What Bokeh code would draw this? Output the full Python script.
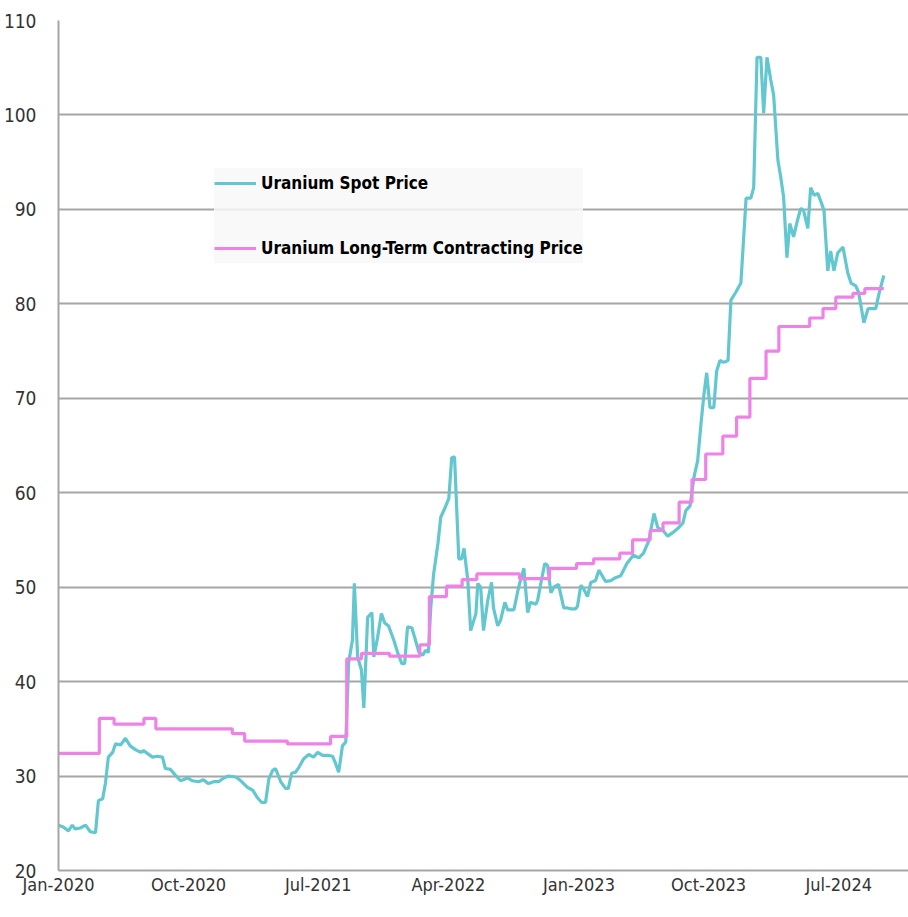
import pandas as pd
from bokeh.plotting import figure
from bokeh.models import Range1d, FixedTicker, DatetimeTickFormatter, Legend, LegendItem, ColumnDataSource
from bokeh.embed import file_html
from bokeh.resources import INLINE

# ---------------- data ----------------
spot_dates = [
    "2020-01-01", "2020-01-11", "2020-01-22", "2020-01-30", "2020-02-05", "2020-02-16", "2020-02-27",
    "2020-03-08", "2020-03-19", "2020-03-25", "2020-04-03", "2020-04-09", "2020-04-15", "2020-04-24",
    "2020-04-30", "2020-05-11", "2020-05-21", "2020-05-31", "2020-06-11", "2020-06-22", "2020-06-28",
    "2020-07-06", "2020-07-17", "2020-07-27", "2020-08-07", "2020-08-13", "2020-08-24", "2020-09-03",
    "2020-09-14", "2020-09-29", "2020-10-09", "2020-10-22", "2020-11-01", "2020-11-12", "2020-11-23",
    "2020-12-03", "2020-12-14", "2020-12-24", "2021-01-08", "2021-01-19", "2021-02-02", "2021-02-13",
    "2021-02-23", "2021-03-04", "2021-03-12", "2021-03-19", "2021-03-27", "2021-04-02", "2021-04-13",
    "2021-04-23", "2021-04-29", "2021-05-06", "2021-05-14", "2021-05-21", "2021-05-31", "2021-06-11",
    "2021-06-21", "2021-06-30", "2021-07-10", "2021-07-21", "2021-07-31", "2021-08-06", "2021-08-13",
    "2021-08-21", "2021-08-28", "2021-09-03", "2021-09-11", "2021-09-15", "2021-09-22", "2021-09-30",
    "2021-10-05", "2021-10-13", "2021-10-22", "2021-10-26", "2021-11-03", "2021-11-11", "2021-11-18",
    "2021-11-26", "2021-12-07", "2021-12-15", "2021-12-24", "2021-12-30", "2022-01-05", "2022-01-14",
    "2022-01-20", "2022-01-29", "2022-02-06", "2022-02-12", "2022-02-18", "2022-02-23", "2022-03-01",
    "2022-03-10", "2022-03-16", "2022-03-24", "2022-04-02", "2022-04-08", "2022-04-14", "2022-04-23",
    "2022-04-29", "2022-05-04", "2022-05-12", "2022-05-18", "2022-05-29", "2022-06-02", "2022-06-08",
    "2022-06-14", "2022-06-23", "2022-07-01", "2022-07-05", "2022-07-14", "2022-07-20", "2022-07-29",
    "2022-08-04", "2022-08-17", "2022-08-27", "2022-09-07", "2022-09-15", "2022-09-21", "2022-10-02",
    "2022-10-06", "2022-10-15", "2022-10-21", "2022-10-27", "2022-11-03", "2022-11-09", "2022-11-19",
    "2022-11-30", "2022-12-08", "2022-12-15", "2022-12-25", "2022-12-29", "2023-01-05", "2023-01-11",
    "2023-01-19", "2023-01-26", "2023-02-05", "2023-02-12", "2023-02-26", "2023-03-09", "2023-03-19",
    "2023-03-30", "2023-04-12", "2023-04-26", "2023-05-07", "2023-05-17", "2023-05-28", "2023-06-08",
    "2023-06-16", "2023-06-27", "2023-07-07", "2023-07-18", "2023-07-28", "2023-08-08", "2023-08-14",
    "2023-08-23", "2023-08-31", "2023-09-08", "2023-09-15", "2023-09-21", "2023-09-27", "2023-10-04",
    "2023-10-12", "2023-10-18", "2023-10-25", "2023-11-02", "2023-11-11", "2023-11-17", "2023-11-27",
    "2023-12-08", "2023-12-19", "2023-12-29", "2024-01-04", "2024-01-11", "2024-01-19", "2024-01-25",
    "2024-02-01", "2024-02-09", "2024-02-15", "2024-02-24", "2024-03-01", "2024-03-07", "2024-03-14",
    "2024-03-20", "2024-03-28", "2024-04-05", "2024-04-12", "2024-04-18", "2024-04-27", "2024-05-03",
    "2024-05-10", "2024-05-18", "2024-05-24", "2024-05-31", "2024-06-08", "2024-06-14", "2024-06-21",
    "2024-06-29", "2024-07-10", "2024-07-20", "2024-07-27", "2024-08-06", "2024-08-12", "2024-08-23",
    "2024-09-01", "2024-09-17", "2024-09-24", "2024-10-04",
]
spot_values = [
    24.8, 24.6, 24.2, 24.8, 24.4, 24.5, 24.8,
    24.1, 24.0, 27.4, 27.6, 29.3, 32.0, 32.5,
    33.4, 33.3, 34.0, 33.2, 32.8, 32.5, 32.7,
    32.4, 32.0, 32.1, 32.0, 30.8, 30.7, 30.1,
    29.5, 29.8, 29.5, 29.4, 29.6, 29.2, 29.4,
    29.4, 29.8, 30.0, 29.9, 29.5, 28.8, 28.5,
    27.7, 27.2, 27.2, 29.7, 30.6, 30.8, 29.4,
    28.7, 28.7, 30.3, 30.4, 30.9, 31.8, 32.3,
    32.0, 32.5, 32.2, 32.2, 32.1, 31.4, 30.4,
    33.2, 33.6, 42.0, 44.4, 50.4, 42.6, 41.2,
    37.2, 46.8, 47.3, 42.6, 44.7, 47.2, 46.2,
    45.9, 44.4, 43.1, 41.9, 41.9, 45.8, 45.7,
    44.7, 43.1, 42.8, 43.3, 43.1, 47.9, 51.4,
    54.6, 57.4, 58.3, 59.4, 63.7, 63.8, 53.0,
    53.0, 54.1, 50.7, 45.4, 47.2, 50.4, 50.0,
    45.4, 48.6, 50.5, 47.8, 45.9, 46.5, 48.4,
    47.6, 47.6, 50.0, 52.0, 47.3, 48.4, 48.2,
    48.6, 51.0, 52.5, 52.3, 49.4, 50.0, 50.3,
    47.8, 47.8, 47.7, 47.7, 48.0, 50.2, 49.8,
    49.0, 50.5, 50.7, 51.8, 50.6, 50.7, 51.0,
    51.2, 52.5, 53.4, 53.1, 53.6, 54.9, 57.8,
    56.3, 56.0, 55.4, 55.8, 56.2, 56.8, 58.1,
    58.6, 61.6, 63.4, 67.3, 70.3, 72.7, 69.0,
    69.0, 72.9, 74.0, 73.8, 74.0, 80.4, 81.2,
    82.2, 91.2, 91.2, 92.3, 106.1, 106.1, 100.2,
    106.1, 103.7, 102.1, 95.2, 93.4, 91.3, 84.9,
    88.5, 87.1, 88.8, 90.1, 89.9, 88.0, 92.3,
    91.5, 91.7, 90.9, 89.9, 83.5, 85.6, 83.5,
    85.4, 86.0, 83.3, 82.2, 81.9, 81.2, 78.0,
    79.5, 79.5, 81.1, 83.0,
]

lt_dates = [
    "2020-01-01", "2020-03-27", "2020-04-27", "2020-06-29", "2020-07-24", "2021-01-01", "2021-01-27",
    "2021-04-27", "2021-07-27", "2021-08-30", "2021-09-30", "2021-11-28", "2022-01-31", "2022-02-20",
    "2022-03-28", "2022-04-30", "2022-05-31", "2022-08-29", "2022-10-31", "2022-12-27", "2023-02-01",
    "2023-03-28", "2023-04-24", "2023-05-31", "2023-06-27", "2023-07-31", "2023-08-27", "2023-09-25",
    "2023-10-31", "2023-11-29", "2023-12-27", "2024-01-30", "2024-02-26", "2024-05-01", "2024-05-29",
    "2024-06-25", "2024-07-31", "2024-08-25", "2024-10-04",
]
lt_values = [
    32.4, 36.1, 35.5, 36.1, 35.0, 34.5, 33.7,
    33.4, 34.2, 42.4, 43.0, 42.7, 43.9, 49.0,
    50.1, 50.8, 51.4, 50.9, 52.0, 52.5, 53.0,
    53.6, 55.0, 56.0, 56.8, 59.0, 61.4, 64.1,
    66.0, 68.0, 72.1, 75.0, 77.6, 78.5, 79.5,
    80.7, 81.1, 81.6, 81.6,
]

x_tick_dates = ["2020-01-01", "2020-10-01", "2021-07-01", "2022-04-01",
                "2023-01-01", "2023-10-01", "2024-07-01"]
y_ticks = [20, 30, 40, 50, 60, 70, 80, 90, 100, 110]
series_names = ["Uranium Spot Price", "Uranium Long-Term Contracting Price"]

# ---------------- figure ----------------
FONT = "DejaVu Sans Condensed"
SPOT_COLOR = "#63c7cf"
LT_COLOR = "#ef82e6"
GRID = "#a6a6a6"

spot_src = ColumnDataSource(dict(x=pd.to_datetime(spot_dates), y=spot_values))
lt_src = ColumnDataSource(dict(x=pd.to_datetime(lt_dates), y=lt_values))

p = figure(width=908, height=908, x_axis_type="datetime",
           x_range=Range1d(pd.Timestamp("2020-01-01"), pd.Timestamp("2024-11-25")),
           y_range=Range1d(20, 110),
           output_backend="svg", toolbar_location=None,
           min_border_left=58, min_border_right=0, min_border_top=20, min_border_bottom=38)
p.outline_line_color = None
p.background_fill_color = "white"
p.border_fill_color = "white"

r_spot = p.line("x", "y", source=spot_src, line_color=SPOT_COLOR, line_width=3.2)
r_lt = p.step("x", "y", source=lt_src, mode="after", line_color=LT_COLOR, line_width=3.2)

def to_ms(d):
    return (pd.Timestamp(d) - pd.Timestamp("1970-01-01")) // pd.Timedelta("1ms")

p.xaxis.ticker = FixedTicker(ticks=[to_ms(d) for d in x_tick_dates])
fmt = "%b-%Y"
p.xaxis.formatter = DatetimeTickFormatter(days=fmt, months=fmt, years=fmt, hours=fmt)
p.yaxis.ticker = FixedTicker(ticks=y_ticks)

for ax in (p.xaxis[0], p.yaxis[0]):
    ax.axis_line_color = GRID
    ax.axis_line_width = 2
    ax.major_tick_line_color = None
    ax.minor_tick_line_color = None
    ax.major_label_text_font = FONT
    ax.major_label_text_font_size = "18px"
    ax.major_label_text_color = "#333333"
p.yaxis.major_label_text_font_size = "19px"
p.yaxis.major_label_standoff = 16
p.xaxis.major_label_standoff = -3

p.xgrid.grid_line_color = None
p.ygrid.grid_line_color = GRID
p.ygrid.grid_line_width = 2

legend = Legend(items=[LegendItem(label=series_names[0], renderers=[r_spot]),
                       LegendItem(label=series_names[1], renderers=[r_lt])],
                location=(156, 607))
legend.label_text_font = FONT
legend.label_text_font_style = "bold"
legend.label_text_font_size = "17px"
legend.label_text_color = "black"
legend.glyph_width = 42
legend.glyph_height = 30
legend.label_height = 30
legend.label_standoff = 5
legend.padding = 16
legend.spacing = 35
legend.margin = 0
legend.border_line_color = None
legend.background_fill_color = "#f8f8f8"
legend.background_fill_alpha = 0.85
p.add_layout(legend, "center")

open("out.html", "w").write(file_html(p, INLINE))
